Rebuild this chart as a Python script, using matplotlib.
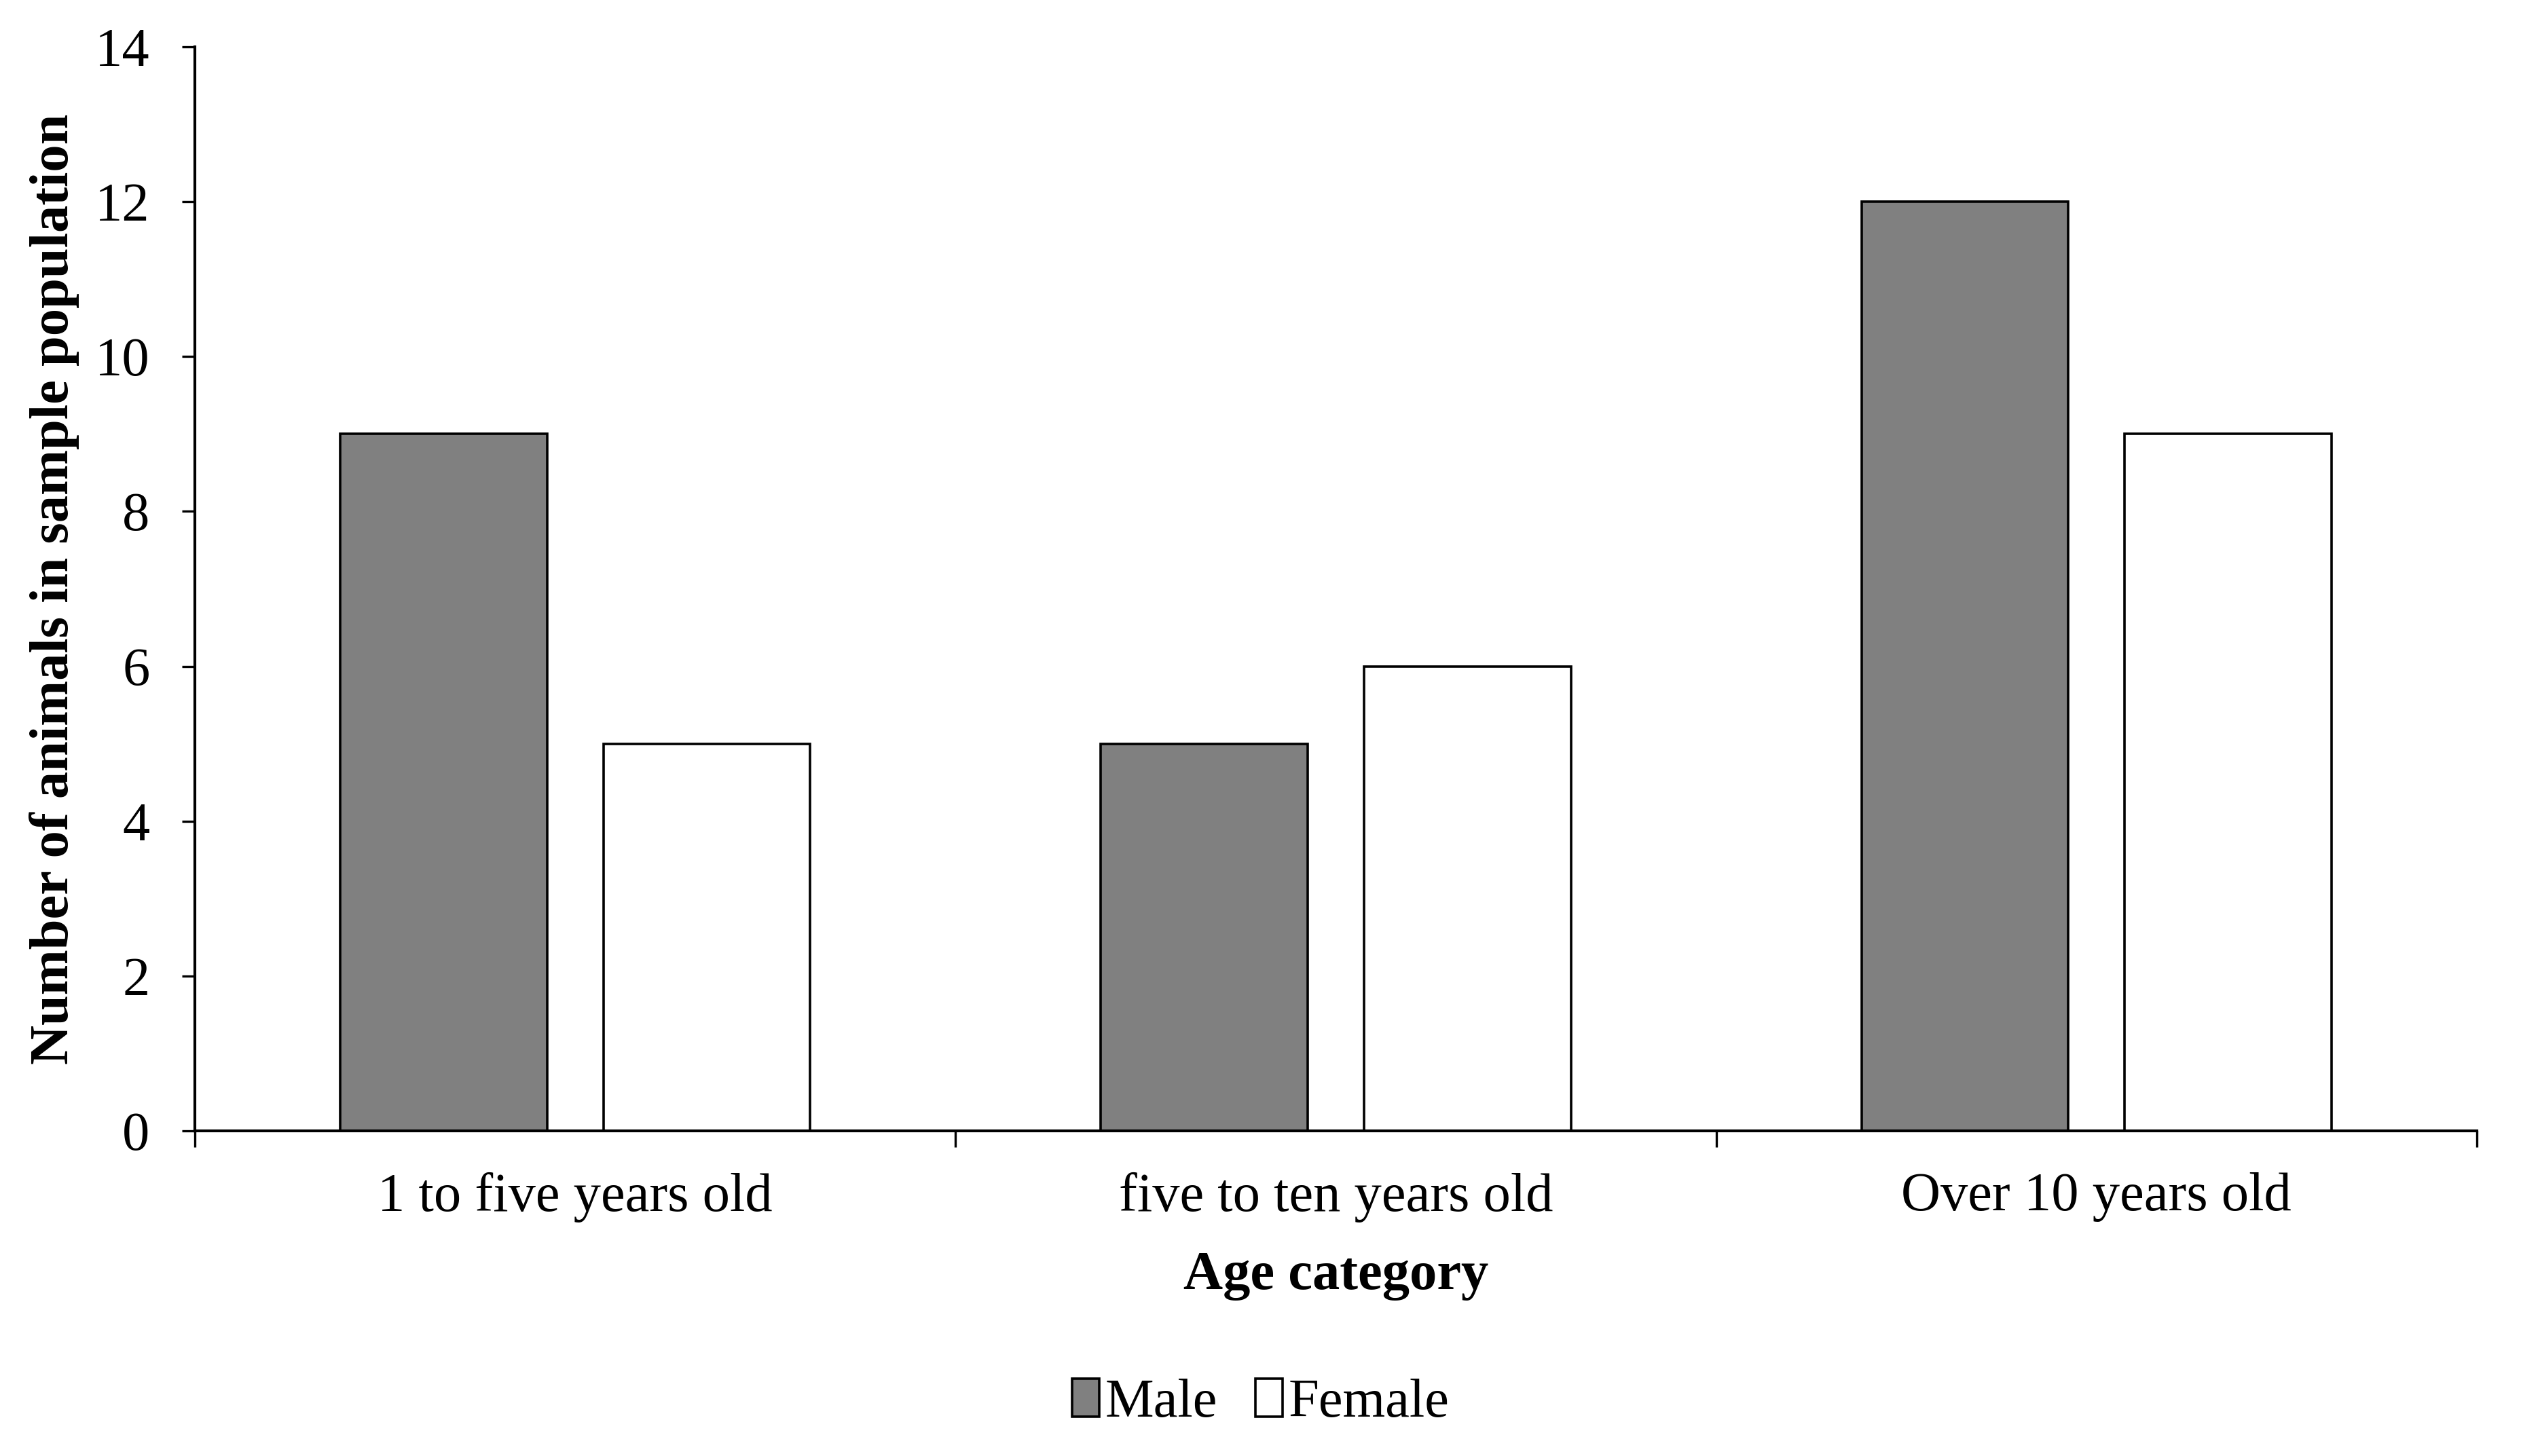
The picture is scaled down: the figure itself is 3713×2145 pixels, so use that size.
import matplotlib
matplotlib.use("Agg")
import matplotlib.pyplot as plt
import numpy as np

# Daten
categories = ["1 to five years old", "five to ten years old", "Over 10 years old"]
male = [9, 5, 12]
female = [5, 6, 9]
yticks = [0, 2, 4, 6, 8, 10, 12, 14]

plt.rcParams['font.family'] = ['Liberation Serif', 'DejaVu Serif']

fig = plt.figure(figsize=(37.13, 21.45), dpi=100)
ax = fig.add_axes([0.0773, 0.2233, 0.9052, 0.7445])

x = np.arange(len(categories))
w = 0.272
off = 0.173
ax.bar(x - off, male, w, color="#808080", edgecolor="black", linewidth=2.6, label="Male")
ax.bar(x + off, female, w, color="white", edgecolor="black", linewidth=2.6, label="Female")

ax.set_xlim(-0.5, len(categories) - 0.5)
ax.set_ylim(0, 14)
ax.set_yticks(yticks)

# Striche an den Kategoriegrenzen, Beschriftung in der Mitte
ax.set_xticks(np.arange(len(categories) + 1) - 0.5)
ax.set_xticklabels([])
ax.set_xticks(x, minor=True)
ax.set_xticklabels(categories, minor=True)
ax.tick_params(axis="x", which="minor", length=0, pad=44, labelsize=58)
ax.tick_params(axis="x", which="major", length=17, width=2.4, direction="out")
ax.tick_params(axis="y", length=14, width=2.4, direction="out", pad=34, labelsize=58)

for s in ["top", "right"]:
    ax.spines[s].set_visible(False)
ax.spines["left"].set_linewidth(3)
ax.spines["bottom"].set_linewidth(3)

ax.set_ylabel("Number of animals in sample population", fontsize=58, fontweight="bold", labelpad=16)
ax.set_xlabel("Age category", fontsize=58, fontweight="bold", labelpad=30)

fig.legend(loc="center", bbox_to_anchor=(0.5, 0.036), ncol=2, frameon=False,
           fontsize=58, handlelength=0.5, handleheight=0.7, handletextpad=0.1,
           columnspacing=0.7)

fig.savefig("out.png", dpi=100)
